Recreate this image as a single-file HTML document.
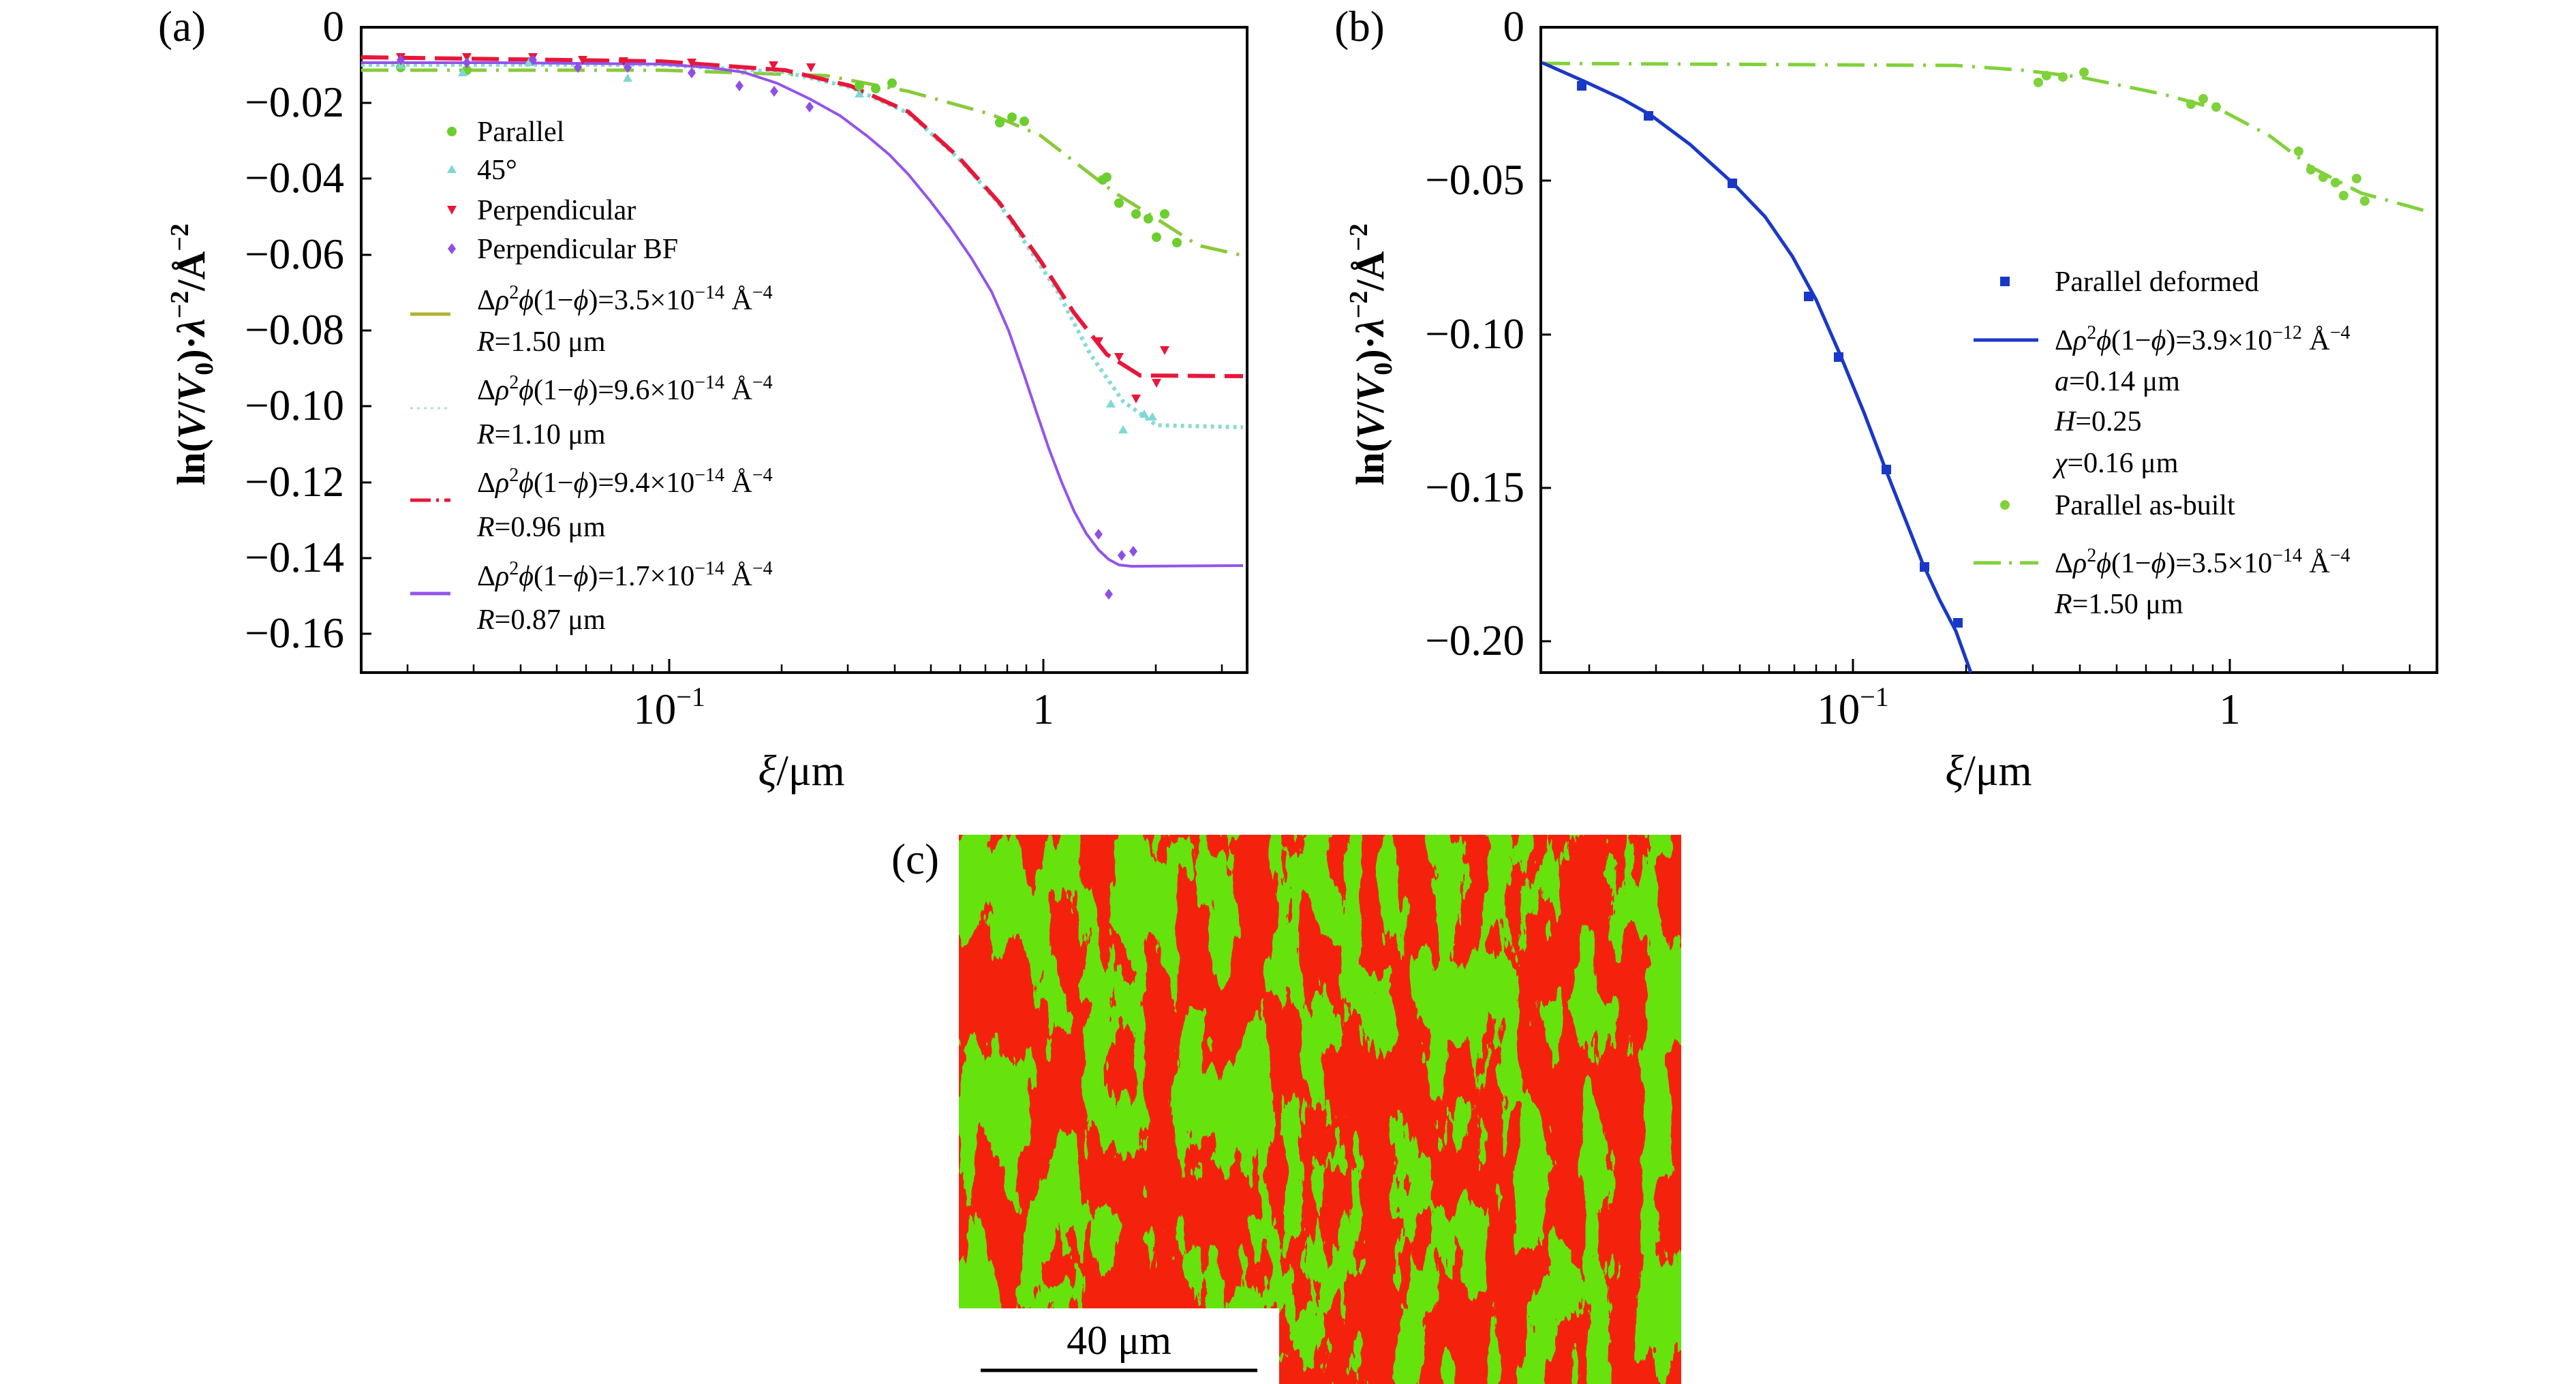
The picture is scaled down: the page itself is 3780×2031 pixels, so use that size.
<!DOCTYPE html>
<html><head><meta charset="utf-8"><style>
html,body{margin:0;padding:0;background:#fff;}
svg{display:block;font-family:"Liberation Serif",serif;}
.t{font-size:63px;}
.l{font-size:42px;}
</style></head><body>
<svg width="3780" height="2031" viewBox="0 0 3780 2031" xmlns="http://www.w3.org/2000/svg">
<defs>
<filter id="micro" x="0" y="0" width="100%" height="100%">
<feTurbulence type="fractalNoise" baseFrequency="0.022 0.0065" numOctaves="5" seed="3" result="n"/>
<feColorMatrix in="n" type="matrix" values="0 0 0 0 0  0 0 0 0 0  0 0 0 0 0  1 0 0 0 0" result="a"/>
<feComponentTransfer in="a" result="b"><feFuncA type="discrete" tableValues="0 0 0 0 0 0 0 0 0 0 0 0 0 0 0 0 0 0 0 0 0 1 1 1 1 1 1 1 1 1 1 1 1 1 1 1 1 1 1 1"/></feComponentTransfer>
<feFlood flood-color="#66e20c" result="g"/>
<feComposite in="g" in2="b" operator="in" result="gg"/>
<feFlood flood-color="#f4200c" result="r"/>
<feMerge><feMergeNode in="r"/><feMergeNode in="gg"/></feMerge>
</filter>
</defs>

<!-- ================= PANEL A ================= -->
<text x="267" y="60" class="t" text-anchor="middle">(a)</text>
<rect x="530" y="40" width="1300" height="947" stroke="#000" stroke-width="4" fill="none"/>
<g stroke="#000" stroke-width="3">
<line x1="530" y1="151" x2="545" y2="151"/><line x1="530" y1="262" x2="545" y2="262"/>
<line x1="530" y1="374" x2="545" y2="374"/><line x1="530" y1="485" x2="545" y2="485"/>
<line x1="530" y1="596" x2="545" y2="596"/><line x1="530" y1="708" x2="545" y2="708"/>
<line x1="530" y1="819" x2="545" y2="819"/><line x1="530" y1="930" x2="545" y2="930"/>
<line x1="982" y1="987" x2="982" y2="967"/><line x1="1531" y1="987" x2="1531" y2="967"/>
</g>
<g stroke="#000" stroke-width="2.5">
<line x1="598" y1="987" x2="598" y2="975"/><line x1="695" y1="987" x2="695" y2="975"/><line x1="764" y1="987" x2="764" y2="975"/><line x1="817" y1="987" x2="817" y2="975"/><line x1="860" y1="987" x2="860" y2="975"/><line x1="897" y1="987" x2="897" y2="975"/><line x1="929" y1="987" x2="929" y2="975"/><line x1="957" y1="987" x2="957" y2="975"/>
<line x1="1147" y1="987" x2="1147" y2="975"/><line x1="1244" y1="987" x2="1244" y2="975"/><line x1="1313" y1="987" x2="1313" y2="975"/><line x1="1366" y1="987" x2="1366" y2="975"/><line x1="1409" y1="987" x2="1409" y2="975"/><line x1="1446" y1="987" x2="1446" y2="975"/><line x1="1478" y1="987" x2="1478" y2="975"/><line x1="1506" y1="987" x2="1506" y2="975"/>
<line x1="1696" y1="987" x2="1696" y2="975"/><line x1="1793" y1="987" x2="1793" y2="975"/>
</g>
<g class="t" text-anchor="end">
<text x="505" y="60">0</text>
<text x="505" y="171">−0.02</text>
<text x="505" y="282">−0.04</text>
<text x="505" y="394">−0.06</text>
<text x="505" y="505">−0.08</text>
<text x="505" y="616">−0.10</text>
<text x="505" y="728">−0.12</text>
<text x="505" y="839">−0.14</text>
<text x="505" y="950">−0.16</text>
</g>
<text x="982" y="1062" class="t" text-anchor="middle">10<tspan dy="-26" font-size="40">−1</tspan></text>
<text x="1531" y="1062" class="t" text-anchor="middle">1</text>
<text x="1176" y="1152" class="t" text-anchor="middle"><tspan font-style="italic">ξ</tspan>/μm</text>
<text transform="translate(300,520) rotate(-90)" font-size="58" text-anchor="middle" font-weight="bold">ln(<tspan font-style="italic">V</tspan>/<tspan font-style="italic">V</tspan><tspan font-size="38" dy="12">0</tspan><tspan dy="-12">)·</tspan><tspan font-style="italic">λ</tspan><tspan font-size="38" dy="-24">−2</tspan><tspan dy="24">/Å</tspan><tspan font-size="38" dy="-24">−2</tspan></text>

<!-- fits a -->
<polyline fill="none" stroke="#8ac93a" stroke-width="5" stroke-dasharray="40 14 4 14" points="530,103 970,103 1212,111 1333,134 1455,168 1527,199 1576,237 1636,283 1697,321 1758,360 1824,375"/>
<polyline fill="none" stroke="#86dcd4" stroke-width="6" stroke-dasharray="5 6" points="530,95 970,95 1152,106 1248,128 1333,166 1406,232 1467,300 1552,428 1600,520 1648,589 1697,624 1824,627"/>
<polyline fill="none" stroke="#e8173a" stroke-width="6" stroke-dasharray="40 14" points="530,84 970,90 1152,103 1248,126 1333,164 1406,230 1467,298 1527,383 1576,459 1624,520 1673,551 1824,552"/>
<polyline fill="none" stroke="#9354ea" stroke-width="4" stroke-linejoin="round" points="530,92 727,92 970,94 1040,99 1091,106 1140,122 1188,145 1233,170 1273,200 1305,227 1333,256 1365,295 1394,333 1425,378 1455,428 1480,485 1503,551 1521,605 1539,658 1558,708 1576,750 1594,783 1612,807 1627,821 1642,829 1660,831 1824,830"/>

<!-- markers a -->
<g fill="#6ccf2e">
<circle cx="588" cy="99" r="7"/><circle cx="685" cy="103" r="7"/><circle cx="1261" cy="126" r="7"/><circle cx="1285" cy="130" r="7"/><circle cx="1309" cy="122" r="7"/><circle cx="1467" cy="180" r="7"/><circle cx="1485" cy="172" r="7"/><circle cx="1503" cy="178" r="7"/><circle cx="1618" cy="264" r="7"/><circle cx="1624" cy="260" r="7"/><circle cx="1642" cy="298" r="7"/><circle cx="1667" cy="314" r="7"/><circle cx="1685" cy="321" r="7"/><circle cx="1709" cy="314" r="7"/><circle cx="1697" cy="348" r="7"/><circle cx="1727" cy="356" r="7"/>
</g>
<g fill="#7fd8d2">
<path d="M588,89 l7,12 h-14z"/><path d="M679,100 l7,12 h-14z"/><path d="M776,85 l7,12 h-14z"/><path d="M921,108 l7,12 h-14z"/><path d="M1261,131 l7,12 h-14z"/><path d="M1630,586 l7,12 h-14z"/><path d="M1648,624 l7,12 h-14z"/><path d="M1679,601 l7,12 h-14z"/><path d="M1691,605 l7,12 h-14z"/>
</g>
<g fill="#e8173a">
<path d="M581,78 h14 l-7,13z"/><path d="M678,78 h14 l-7,13z"/><path d="M775,78 h14 l-7,13z"/><path d="M848,82 h14 l-7,13z"/><path d="M908,84 h14 l-7,13z"/><path d="M1008,86 h14 l-7,13z"/><path d="M1128,90 h14 l-7,13z"/><path d="M1183,93 h14 l-7,13z"/><path d="M1605,495 h14 l-7,13z"/><path d="M1635,518 h14 l-7,13z"/><path d="M1660,579 h14 l-7,13z"/><path d="M1690,556 h14 l-7,13z"/><path d="M1702,508 h14 l-7,13z"/>
</g>
<g fill="#8f4fe6">
<path d="M588,80 l6,8 -6,8 -6,-8z"/><path d="M685,84 l6,8 -6,8 -6,-8z"/><path d="M782,80 l6,8 -6,8 -6,-8z"/><path d="M848,91 l6,8 -6,8 -6,-8z"/><path d="M921,91 l6,8 -6,8 -6,-8z"/><path d="M1015,99 l6,8 -6,8 -6,-8z"/><path d="M1085,118 l6,8 -6,8 -6,-8z"/><path d="M1136,126 l6,8 -6,8 -6,-8z"/><path d="M1188,149 l6,8 -6,8 -6,-8z"/><path d="M1612,776 l6,8 -6,8 -6,-8z"/><path d="M1646,807 l6,8 -6,8 -6,-8z"/><path d="M1663,801 l6,8 -6,8 -6,-8z"/><path d="M1627,864 l6,8 -6,8 -6,-8z"/>
</g>

<!-- legend a -->
<circle cx="663" cy="193" r="7" fill="#6ccf2e"/>
<path d="M663,242 l7,12 h-14z" fill="#7fd8d2"/>
<path d="M656,302 h14 l-7,13z" fill="#e8173a"/>
<path d="M663,357 l6,8 -6,8 -6,-8z" fill="#8f4fe6"/>
<g class="l">
<text x="700" y="207">Parallel</text>
<text x="700" y="263">45°</text>
<text x="700" y="322">Perpendicular</text>
<text x="700" y="379">Perpendicular BF</text>
</g>
<line x1="602" y1="461" x2="661" y2="461" stroke="#b0b332" stroke-width="5"/>
<line x1="602" y1="599" x2="661" y2="599" stroke="#b8dcd8" stroke-width="3" stroke-dasharray="4 6"/>
<line x1="602" y1="734" x2="661" y2="734" stroke="#e8173a" stroke-width="5" stroke-dasharray="30 8 4 8"/>
<line x1="602" y1="871" x2="661" y2="871" stroke="#9354ea" stroke-width="5"/>
<g class="l">
<text x="700" y="454">Δ<tspan font-style="italic">ρ</tspan><tspan font-size="28" dy="-16">2</tspan><tspan dy="16" font-style="italic">ϕ</tspan>(1−<tspan font-style="italic">ϕ</tspan>)=3.5×10<tspan font-size="28" dy="-16">−14</tspan><tspan dy="16"> Å</tspan><tspan font-size="28" dy="-16">−4</tspan></text>
<text x="700" y="515"><tspan font-style="italic">R</tspan>=1.50 μm</text>
<text x="700" y="586">Δ<tspan font-style="italic">ρ</tspan><tspan font-size="28" dy="-16">2</tspan><tspan dy="16" font-style="italic">ϕ</tspan>(1−<tspan font-style="italic">ϕ</tspan>)=9.6×10<tspan font-size="28" dy="-16">−14</tspan><tspan dy="16"> Å</tspan><tspan font-size="28" dy="-16">−4</tspan></text>
<text x="700" y="651"><tspan font-style="italic">R</tspan>=1.10 μm</text>
<text x="700" y="722">Δ<tspan font-style="italic">ρ</tspan><tspan font-size="28" dy="-16">2</tspan><tspan dy="16" font-style="italic">ϕ</tspan>(1−<tspan font-style="italic">ϕ</tspan>)=9.4×10<tspan font-size="28" dy="-16">−14</tspan><tspan dy="16"> Å</tspan><tspan font-size="28" dy="-16">−4</tspan></text>
<text x="700" y="787"><tspan font-style="italic">R</tspan>=0.96 μm</text>
<text x="700" y="859">Δ<tspan font-style="italic">ρ</tspan><tspan font-size="28" dy="-16">2</tspan><tspan dy="16" font-style="italic">ϕ</tspan>(1−<tspan font-style="italic">ϕ</tspan>)=1.7×10<tspan font-size="28" dy="-16">−14</tspan><tspan dy="16"> Å</tspan><tspan font-size="28" dy="-16">−4</tspan></text>
<text x="700" y="923"><tspan font-style="italic">R</tspan>=0.87 μm</text>
</g>

<!-- ================= PANEL B ================= -->
<text x="1995" y="60" class="t" text-anchor="middle">(b)</text>
<rect x="2261" y="40" width="1315" height="947" stroke="#000" stroke-width="4" fill="none"/>
<g stroke="#000" stroke-width="3">
<line x1="2261" y1="265" x2="2276" y2="265"/><line x1="2261" y1="491" x2="2276" y2="491"/><line x1="2261" y1="716" x2="2276" y2="716"/><line x1="2261" y1="941" x2="2276" y2="941"/>
<line x1="2719" y1="987" x2="2719" y2="967"/><line x1="3272" y1="987" x2="3272" y2="967"/>
</g>
<g stroke="#000" stroke-width="2.5">
<line x1="2332" y1="987" x2="2332" y2="975"/><line x1="2430" y1="987" x2="2430" y2="975"/><line x1="2499" y1="987" x2="2499" y2="975"/><line x1="2553" y1="987" x2="2553" y2="975"/><line x1="2596" y1="987" x2="2596" y2="975"/><line x1="2633" y1="987" x2="2633" y2="975"/><line x1="2665" y1="987" x2="2665" y2="975"/><line x1="2694" y1="987" x2="2694" y2="975"/>
<line x1="2885" y1="987" x2="2885" y2="975"/><line x1="2983" y1="987" x2="2983" y2="975"/><line x1="3052" y1="987" x2="3052" y2="975"/><line x1="3106" y1="987" x2="3106" y2="975"/><line x1="3149" y1="987" x2="3149" y2="975"/><line x1="3186" y1="987" x2="3186" y2="975"/><line x1="3218" y1="987" x2="3218" y2="975"/><line x1="3247" y1="987" x2="3247" y2="975"/>
<line x1="3438" y1="987" x2="3438" y2="975"/><line x1="3536" y1="987" x2="3536" y2="975"/>
</g>
<g class="t" text-anchor="end">
<text x="2237" y="60">0</text>
<text x="2237" y="285">−0.05</text>
<text x="2237" y="511">−0.10</text>
<text x="2237" y="736">−0.15</text>
<text x="2237" y="961">−0.20</text>
</g>
<text x="2719" y="1062" class="t" text-anchor="middle">10<tspan dy="-26" font-size="40">−1</tspan></text>
<text x="3272" y="1062" class="t" text-anchor="middle">1</text>
<text x="2918" y="1152" class="t" text-anchor="middle"><tspan font-style="italic">ξ</tspan>/μm</text>
<text transform="translate(2030,520) rotate(-90)" font-size="58" text-anchor="middle" font-weight="bold">ln(<tspan font-style="italic">V</tspan>/<tspan font-style="italic">V</tspan><tspan font-size="38" dy="12">0</tspan><tspan dy="-12">)·</tspan><tspan font-style="italic">λ</tspan><tspan font-size="38" dy="-24">−2</tspan><tspan dy="24">/Å</tspan><tspan font-size="38" dy="-24">−2</tspan></text>

<polyline fill="none" stroke="#7fd23a" stroke-width="5" stroke-dasharray="40 14 4 14" points="2264,93 2870,96 2967,103 3052,113 3173,138 3258,161 3330,199 3391,245 3464,283 3561,310"/>
<polyline fill="none" stroke="#1a38c8" stroke-width="5" stroke-linejoin="round" points="2263,92 2324,119 2380,145 2421,168 2480,212 2542,268 2590,318 2630,376 2665,440 2700,520 2735,605 2767,689 2795,760 2821,826 2846,880 2870,926 2892,987"/>
<g fill="#1a38c8">
<rect x="2314" y="119" width="14" height="14"/><rect x="2412" y="163" width="14" height="14"/><rect x="2535" y="262" width="14" height="14"/><rect x="2647" y="428" width="14" height="14"/><rect x="2691" y="517" width="14" height="14"/><rect x="2761" y="682" width="14" height="14"/><rect x="2817" y="825" width="14" height="14"/><rect x="2866" y="907" width="14" height="14"/>
</g>
<g fill="#7fd23a">
<circle cx="2991" cy="121" r="7"/><circle cx="3003" cy="111" r="7"/><circle cx="3027" cy="113" r="7"/><circle cx="3058" cy="106" r="7"/><circle cx="3215" cy="153" r="7"/><circle cx="3233" cy="145" r="7"/><circle cx="3252" cy="157" r="7"/><circle cx="3373" cy="222" r="7"/><circle cx="3391" cy="249" r="7"/><circle cx="3409" cy="260" r="7"/><circle cx="3427" cy="268" r="7"/><circle cx="3458" cy="262" r="7"/><circle cx="3439" cy="287" r="7"/><circle cx="3470" cy="295" r="7"/>
</g>
<!-- legend b -->
<rect x="2935" y="406" width="14" height="14" fill="#1a38c8"/>
<line x1="2896" y1="499" x2="2991" y2="499" stroke="#1a38c8" stroke-width="5"/>
<circle cx="2942" cy="741" r="7" fill="#7fd23a"/>
<line x1="2896" y1="826" x2="2991" y2="826" stroke="#7fd23a" stroke-width="5" stroke-dasharray="40 12 4 12"/>
<g class="l">
<text x="3015" y="427">Parallel deformed</text>
<text x="3015" y="513">Δ<tspan font-style="italic">ρ</tspan><tspan font-size="28" dy="-16">2</tspan><tspan dy="16" font-style="italic">ϕ</tspan>(1−<tspan font-style="italic">ϕ</tspan>)=3.9×10<tspan font-size="28" dy="-16">−12</tspan><tspan dy="16"> Å</tspan><tspan font-size="28" dy="-16">−4</tspan></text>
<text x="3015" y="573"><tspan font-style="italic">a</tspan>=0.14 μm</text>
<text x="3015" y="632"><tspan font-style="italic">H</tspan>=0.25</text>
<text x="3015" y="693"><tspan font-style="italic">χ</tspan>=0.16 μm</text>
<text x="3015" y="755">Parallel as-built</text>
<text x="3015" y="840">Δ<tspan font-style="italic">ρ</tspan><tspan font-size="28" dy="-16">2</tspan><tspan dy="16" font-style="italic">ϕ</tspan>(1−<tspan font-style="italic">ϕ</tspan>)=3.5×10<tspan font-size="28" dy="-16">−14</tspan><tspan dy="16"> Å</tspan><tspan font-size="28" dy="-16">−4</tspan></text>
<text x="3015" y="900"><tspan font-style="italic">R</tspan>=1.50 μm</text>
</g>

<!-- ================= PANEL C ================= -->
<text x="1343" y="1282" class="t" text-anchor="middle">(c)</text>
<rect x="1407" y="1225" width="1060" height="806" fill="#f4200c" filter="url(#micro)"/>
<rect x="1407" y="1920" width="470" height="111" fill="#fff"/>
<text x="1642" y="1987" font-size="60" text-anchor="middle">40 μm</text>
<line x1="1439" y1="2011" x2="1845" y2="2011" stroke="#000" stroke-width="5"/>
</svg>
</body></html>
